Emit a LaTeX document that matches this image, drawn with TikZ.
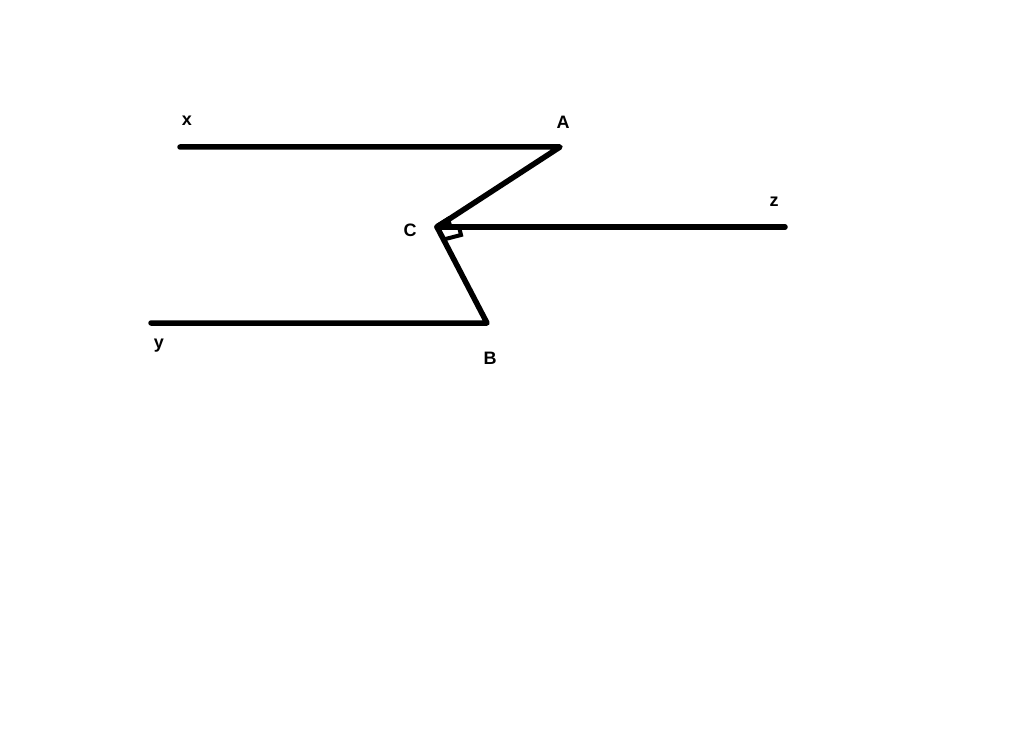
\documentclass[tikz,border=0pt]{standalone}
\usepackage{fontspec}
\setmainfont{Liberation Sans}
\tikzset{
  thick line/.style={line width=5.5pt, line cap=round, line join=round},
  pt label/.style={font=\fontsize{18}{18}\selectfont\bfseries, inner sep=0pt}
}
\begin{document}
\begin{tikzpicture}[x=1pt, y=-1pt]
      % Fix the page to the size of the reference
      \useasboundingbox (0,0) rectangle (1024,743);

      % Points of the figure
      \coordinate (X) at (180,147);
      \coordinate (A) at (560,147);
      \coordinate (C) at (437,227);
      \coordinate (Z) at (785,227);
      \coordinate (Y) at (151,323);
      \coordinate (B) at (487,323);

      % Draw the two parallel lines and the zig-zag through C
      \draw[thick line] (X) -- (A) -- (C) -- (B) -- (Y);
      \draw[thick line] (C) -- (Z);

      % Mark the angle at C
      \coordinate (Cz) at (459,227);
      \coordinate (Cm) at (461,235);
      \coordinate (Cb) at (443.5,239.5);
      \draw[line width=4pt, line join=miter] (Cz) -- (Cm) -- (Cb);
      \fill (436,224) -- (449,216) -- (452,225) -- cycle;

      % Add the labels
      \node[pt label] (lx) at (187,121) {x};
      \node[pt label] (la) at (563,122) {A};
      \node[pt label] (lz) at (774,202) {z};
      \node[pt label] (lc) at (410,230) {C};
      \node[pt label] (ly) at (159,346) {y};
      \node[pt label] (lb) at (490,358) {B};
    \end{tikzpicture}
\end{document}
